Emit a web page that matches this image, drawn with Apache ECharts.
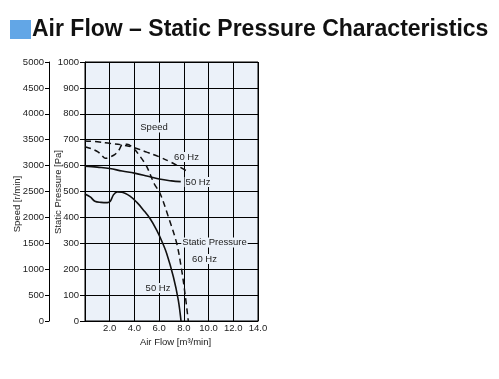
<!DOCTYPE html>
<html><head><meta charset="utf-8">
<script src="https://cdn.jsdelivr.net/npm/echarts@6/dist/echarts.min.js"></script>
<style>html,body{margin:0;padding:0;background:#fff}#c{width:499px;height:379px}</style>
</head><body><div id="c"></div>
<script>
// ---- data ----
const xTickLabels = ['', '2.0', '4.0', '6.0', '8.0', '10.0', '12.0', '14.0'];
const pressureTickLabels = ['0','100','200','300','400','500','600','700','800','900','1000'];
const speedTickLabels = ['0','500','1000','1500','2000','2500','3000','3500','4000','4500','5000'];

// Speed (r/min) vs air flow (m3/min)
const speed60Flow = [0, 1, 2, 3, 4, 5, 6, 7, 8.2];
const speed60Rpm  = [3475, 3460, 3430, 3400, 3345, 3260, 3170, 3060, 2900];
const speed50Flow = [0, 1, 2, 3, 4, 5, 6, 7, 7.75];
const speed50Rpm  = [2990, 2970, 2945, 2895, 2855, 2800, 2740, 2705, 2690];

// Static pressure (Pa) vs air flow (m3/min)
const press60Flow = [0, 0.54, 1.08, 1.35, 1.65, 2.0, 2.4, 2.75, 3.0, 3.4, 3.9, 4.45, 5.0, 5.6, 6.07, 6.74, 7.42, 7.82, 8.09, 8.36];
const press60Pa   = [673, 665, 652, 640, 628, 633, 642, 660, 680, 682, 668, 636, 596, 530, 493, 403, 300, 197, 107, 0];
const press50Flow = [0, 0.45, 0.8, 1.3, 1.8, 2.05, 2.3, 2.6, 3.0, 3.64, 4.2, 4.72, 5.3, 5.8, 6.2, 6.61, 7.15, 7.55, 7.77];
const press50Pa   = [490, 478, 462, 458, 457, 462, 487, 498, 497, 482, 458, 429, 393, 351, 310, 261, 171, 81, 0];

const zip = (a, b) => a.map((v, i) => [v, b[i]]);

const FONT = '"Liberation Sans", Arial, sans-serif';
const FS = 9.5;
const TXT = '#222';
const chart = echarts.init(document.getElementById('c'), null, {renderer: 'canvas'});

function txtStyle(text, x, y) {
  return {
    text: text, x: x, y: y, font: FS + 'px ' + FONT, fill: TXT,
    textAlign: 'center', textVerticalAlign: 'middle',
    align: 'center', verticalAlign: 'middle'
  };
}
function lbl(text, x, y) {
  return {type: 'text', z: 100, style: txtStyle(text, x, y)};
}
function vlbl(text, x, y) {
  return {type: 'text', z: 100, x: x, y: y, rotation: Math.PI / 2, style: txtStyle(text, 0, 0)};
}
function annot(text, x, y) {
  const g = lbl(text, x, y);
  g.style.backgroundColor = '#ebf1f9';
  g.style.padding = [0, 1];
  return g;
}

chart.setOption({
  animation: false,
  backgroundColor: '#fff',
  grid: {left: 85, top: 62, width: 173, height: 259, show: true,
         backgroundColor: '#ebf1f9', borderColor: '#000', borderWidth: 1},
  xAxis: {
    type: 'value', min: 0, max: 14, interval: 2,
    axisLine: {show: true, lineStyle: {color: '#000', width: 1}},
    axisTick: {show: false},
    splitLine: {show: true, lineStyle: {color: '#000', width: 1}},
    axisLabel: {margin: 2, fontSize: FS, fontFamily: FONT, color: TXT,
      formatter: v => xTickLabels[Math.round(v / 2)] || ''}
  },
  yAxis: [
    {
      type: 'value', position: 'left', min: 0, max: 1000, interval: 100,
      axisLine: {show: true, lineStyle: {color: '#000', width: 1}},
      axisTick: {show: true, length: 5, inside: false, lineStyle: {color: '#000'}},
      splitLine: {show: true, lineStyle: {color: '#000', width: 1}},
      axisLabel: {margin: 6, fontSize: FS, fontFamily: FONT, color: TXT,
        formatter: v => pressureTickLabels[Math.round(v / 100)]}
    },
    {
      type: 'value', position: 'left', offset: 36, min: 0, max: 5000, interval: 500,
      axisLine: {show: true, lineStyle: {color: '#000', width: 1}},
      axisTick: {show: true, length: 4, inside: false, lineStyle: {color: '#000'}},
      splitLine: {show: false},
      axisLabel: {margin: 5, fontSize: FS, fontFamily: FONT, color: TXT,
        formatter: v => speedTickLabels[Math.round(v / 500)]}
    }
  ],
  series: [
    {type: 'line', yAxisIndex: 1, data: zip(speed60Flow, speed60Rpm), smooth: 0.4, symbol: 'none',
     lineStyle: {color: '#111', width: 1.5, type: [6, 4]}, z: 5},
    {type: 'line', yAxisIndex: 1, data: zip(speed50Flow, speed50Rpm), smooth: 0.4, symbol: 'none',
     lineStyle: {color: '#111', width: 1.6}, z: 5},
    {type: 'line', yAxisIndex: 0, data: zip(press60Flow, press60Pa), smooth: 0.35, symbol: 'none',
     lineStyle: {color: '#111', width: 1.5, type: [6, 4]}, z: 5},
    {type: 'line', yAxisIndex: 0, data: zip(press50Flow, press50Pa), smooth: 0.35, symbol: 'none',
     lineStyle: {color: '#111', width: 1.6}, z: 5}
  ],
  graphic: [
    {type: 'rect', shape: {x: 10, y: 20, width: 21, height: 19}, style: {fill: '#62a6e6'}},
    {type: 'text', style: {text: 'Air Flow – Static Pressure Characteristics', x: 32, y: 29.5,
      font: 'bold 23px "Liberation Sans", Arial, sans-serif', fill: '#111',
      textAlign: 'left', textVerticalAlign: 'middle', align: 'left', verticalAlign: 'middle'}},
    vlbl('Speed [r/min]', 17, 204),
    vlbl('Static Pressure [Pa]', 58, 192),
    lbl('Air Flow [m³/min]', 175.5, 342.5),
    annot('Speed', 154, 127.5),
    annot('60 Hz', 186.5, 157),
    annot('50 Hz', 198, 182),
    annot('Static Pressure', 214.5, 242.5),
    annot('60 Hz', 204.5, 259),
    annot('50 Hz', 158, 288)
  ]
});
</script></body></html>
